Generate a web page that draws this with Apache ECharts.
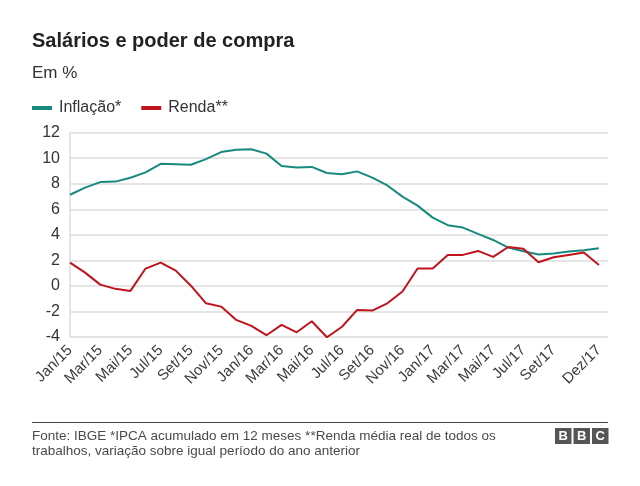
<!DOCTYPE html>
<html>
<head>
<meta charset="utf-8">
<script src="https://cdn.jsdelivr.net/npm/echarts@6/dist/echarts.min.js"></script>
<style>
html,body{margin:0;padding:0;background:#fff;}
#c{width:640px;height:486px;}
</style>
</head>
<body>
<div id="c"></div>
<script>
var categories = ["Jan/15","Fev/15","Mar/15","Abr/15","Mai/15","Jun/15","Jul/15","Ago/15","Set/15","Out/15","Nov/15","Dez/15",
  "Jan/16","Fev/16","Mar/16","Abr/16","Mai/16","Jun/16","Jul/16","Ago/16","Set/16","Out/16","Nov/16","Dez/16",
  "Jan/17","Fev/17","Mar/17","Abr/17","Mai/17","Jun/17","Jul/17","Ago/17","Set/17","Out/17","Nov/17","Dez/17"];
var inflacao = [7.14,7.70,8.13,8.17,8.47,8.89,9.56,9.53,9.49,9.93,10.48,10.67,
  10.71,10.36,9.39,9.28,9.32,8.84,8.74,8.97,8.48,7.87,6.99,6.29,
  5.35,4.76,4.57,4.08,3.60,3.00,2.71,2.46,2.54,2.70,2.80,2.95];
var renda = [1.83,1.04,0.10,-0.23,-0.39,1.36,1.83,1.20,0.02,-1.36,-1.62,-2.66,
  -3.13,-3.86,-3.05,-3.63,-2.77,-4.02,-3.20,-1.88,-1.93,-1.36,-0.44,1.36,
  1.36,2.43,2.43,2.74,2.27,3.05,2.92,1.85,2.24,2.43,2.61,1.64];
var shownLabels = ["Jan/15","Mar/15","Mai/15","Jul/15","Set/15","Nov/15","Jan/16","Mar/16","Mai/16","Jul/16","Set/16","Nov/16","Jan/17","Mar/17","Mai/17","Jul/17","Set/17","Dez/17"];
var yTicks = [-4,-2,0,2,4,6,8,10,12];

function pairs(arr){ return arr.map(function(v,i){ return [i,v]; }); }

var FONT = '"Liberation Sans", Arial, sans-serif';
var chart = echarts.init(document.getElementById('c'), null, {renderer:'canvas'});
chart.setOption({
  animation:false,
  backgroundColor:'#fff',
  textStyle:{fontFamily:FONT},
  title:[
    {text:'Salários e poder de compra', left:27, top:26, textStyle:{fontFamily:FONT,fontSize:20,fontWeight:'bold',color:'#222'}},
    {text:'Em %', left:27, top:60, textStyle:{fontFamily:FONT,fontSize:17,fontWeight:'normal',color:'#333'}}
  ],
  legend:{
    left:27, top:95, itemWidth:20, itemHeight:4, itemGap:20,
    icon:'rect',
    textStyle:{fontFamily:FONT,fontSize:16,color:'#333',padding:[0,0,0,2]},
    data:['Inflação*','Renda**']
  },
  grid:{left:70, right:32, top:132.7, bottom:149, containLabel:false},
  xAxis:{
    type:'value', min:0, max:35.6, interval:1,
    axisLine:{show:false}, axisTick:{show:false}, splitLine:{show:false},
    axisLabel:{
      rotate:45, margin:11, fontSize:15, color:'#3a3a3a', fontFamily:FONT,
      showMaxLabel:false,
      formatter:function(v){
        if (Math.abs(v-Math.round(v))>1e-6) return '';
        var c = categories[Math.round(v)];
        return shownLabels.indexOf(c)>=0 ? c : '';
      }
    }
  },
  yAxis:{
    type:'value', min:yTicks[0], max:yTicks[yTicks.length-1], interval:2,
    axisLine:{show:true, lineStyle:{color:'#ddd',width:1.5}},
    axisTick:{show:false},
    splitLine:{lineStyle:{color:'#ddd',width:1.5}},
    axisLabel:{fontSize:16,color:'#333',margin:10,fontFamily:FONT}
  },
  series:[
    {name:'Inflação*', type:'line', data:pairs(inflacao), showSymbol:false, symbol:'none',
     lineStyle:{color:'#178a7e',width:2}, itemStyle:{color:'#178a7e'}},
    {name:'Renda**', type:'line', data:pairs(renda), showSymbol:false, symbol:'none',
     lineStyle:{color:'#c0141c',width:2}, itemStyle:{color:'#c0141c'}}
  ],
  graphic:[
    {type:'line', shape:{x1:32,y1:422.5,x2:608,y2:422.5}, style:{stroke:'#444',lineWidth:1}},
    {type:'text', left:32, top:429, style:{text:'Fonte: IBGE *IPCA acumulado em 12 meses **Renda média real de todos os\ntrabalhos, variação sobre igual período do ano anterior', font:'13.5px "Liberation Sans", Arial, sans-serif', fill:'#4a4a4a', lineHeight:15}},
    {type:'rect', shape:{x:555,y:428,width:16.5,height:16}, style:{fill:'#555'}},
    {type:'rect', shape:{x:573.5,y:428,width:16.5,height:16}, style:{fill:'#555'}},
    {type:'rect', shape:{x:592,y:428,width:16.5,height:16}, style:{fill:'#555'}},
    {type:'text', x:563.25, y:436.5, style:{text:'B', font:'bold 13px "Liberation Sans", Arial, sans-serif', fill:'#fff', align:'center', verticalAlign:'middle'}},
    {type:'text', x:581.75, y:436.5, style:{text:'B', font:'bold 13px "Liberation Sans", Arial, sans-serif', fill:'#fff', align:'center', verticalAlign:'middle'}},
    {type:'text', x:600.25, y:436.5, style:{text:'C', font:'bold 13px "Liberation Sans", Arial, sans-serif', fill:'#fff', align:'center', verticalAlign:'middle'}}
  ]
});
</script>
</body>
</html>
